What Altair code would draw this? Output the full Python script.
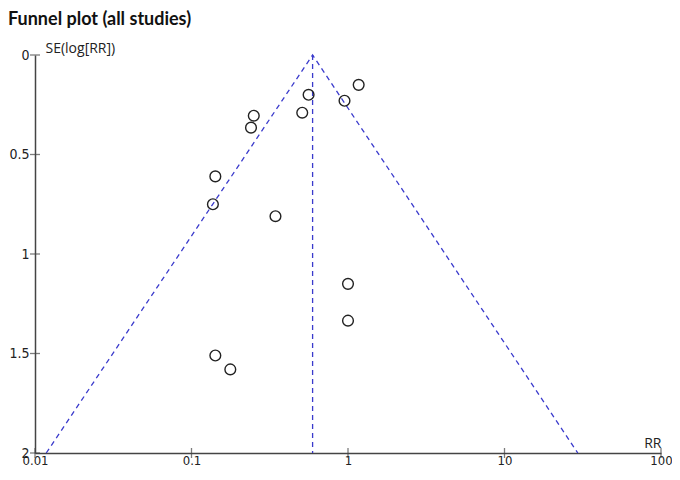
import altair as alt
import pandas as pd

# Study estimates
rr = [1.17, 0.56, 0.95, 0.51, 0.25, 0.24, 0.142, 0.137, 0.344, 1.0, 1.0, 0.142, 0.177]
se = [0.15, 0.20, 0.23, 0.29, 0.305, 0.365, 0.61, 0.75, 0.81, 1.15, 1.335, 1.51, 1.58]

# Funnel outline (pseudo 95% limits) and pooled line
funnel_rr = [0.0118, 0.594, 29.4]
funnel_se = [2.0, 0.0, 2.0]
pooled_rr = [0.594, 0.594]
pooled_se = [0.0, 2.0]

x_ticks = [0.01, 0.1, 1, 10, 100]
y_ticks = [0, 0.5, 1, 1.5, 2]

pts = pd.DataFrame({"rr": rr, "se": se})
fun = pd.DataFrame({"rr": funnel_rr, "se": funnel_se, "o": [0, 1, 2]})
pool = pd.DataFrame({"rr": pooled_rr, "se": pooled_se})
xt = pd.DataFrame({"rr": x_ticks, "se": [2] * len(x_ticks)})
yt = pd.DataFrame({"rr": [0.01] * len(y_ticks), "se": y_ticks})

LABEL_FONT = "'DejaVu Sans Condensed', 'DejaVu Sans'"

xscale = alt.Scale(type="log", domain=[0.01, 100], nice=False)
yscale = alt.Scale(domain=[0, 2], reverse=True, nice=False, zero=False)

W = 626
H = 398

xaxis = alt.Axis(values=x_ticks, format="~g", grid=False, ticks=False,
                 labelPadding=1, labelFont=LABEL_FONT, labelFontSize=13,
                 labelColor="#222", domainColor="#444", domainWidth=1.5,
                 title="RR", titleAngle=0, titleX=W, titleY=-6,
                 titleAlign="right", titleBaseline="alphabetic",
                 titleFont="Open Sans", titleFontSize=14, titleFontWeight="normal",
                 titleColor="#222", labelFlush=False, labelOverlap=False)
yaxis = alt.Axis(values=y_ticks, format="~g", grid=False, ticks=False,
                 labelPadding=6, labelFont=LABEL_FONT, labelFontSize=14,
                 labelColor="#222", domainColor="#444", domainWidth=1.5,
                 title="SE(log[RR])", titleAngle=0, titleX=10, titleY=-3,
                 titleAlign="left", titleBaseline="alphabetic",
                 titleFont="Open Sans", titleFontSize=14, titleFontWeight="normal",
                 titleColor="#222", labelFlush=False, labelOverlap=False)

base_x = alt.X("rr:Q", scale=xscale, axis=xaxis)
base_y = alt.Y("se:Q", scale=yscale, axis=yaxis)

funnel = alt.Chart(fun).mark_line(color="#3a3acc", strokeDash=[5, 4], strokeWidth=1.3, clip=False).encode(
    x=base_x, y=base_y, order="o:Q")
pooled = alt.Chart(pool).mark_line(color="#3a3acc", strokeDash=[5, 4], strokeWidth=1.3, clip=False).encode(
    x="rr:Q", y="se:Q")
points = alt.Chart(pts).mark_point(shape="circle", filled=False, color="#222", size=115,
                                   strokeWidth=1.4, opacity=1, clip=False).encode(x="rr:Q", y="se:Q")
xtk = alt.Chart(xt).mark_tick(orient="vertical", size=10, thickness=1.3, color="#444", clip=False).encode(
    x="rr:Q", y="se:Q")
ytk = alt.Chart(yt).mark_tick(orient="horizontal", size=10, thickness=1.3, color="#444", clip=False).encode(
    x="rr:Q", y="se:Q")

chart = alt.layer(funnel, pooled, points, xtk, ytk).properties(
    width=W, height=H,
    autosize=alt.AutoSizeParams(type="none"),
    padding={"left": 27, "top": 47, "right": 11, "bottom": 15},
    title=alt.TitleParams("Funnel plot (all studies)", anchor="start", frame="group",
                          font="Lato", fontSize=18, fontWeight="bold", color="#111",
                          dx=-27, offset=12),
).configure_view(stroke=None)

chart.save("out.html", embed_options={"renderer": "svg", "actions": False})
